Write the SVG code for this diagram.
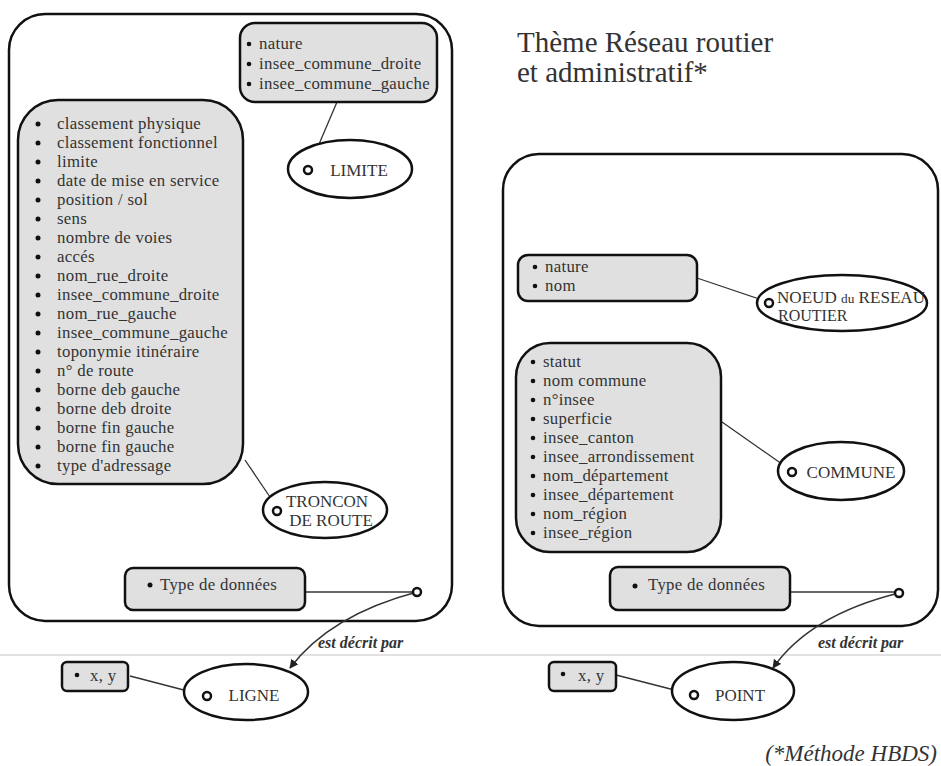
<svg xmlns="http://www.w3.org/2000/svg" width="941" height="766" viewBox="0 0 941 766">
<defs>
<style>
.frame{fill:#fff;stroke:#111;stroke-width:2.5}
.attr{fill:#e0e0e0;stroke:#111;stroke-width:2.5}
.ent{fill:#fff;stroke:#111;stroke-width:2.5}
.port{fill:#fff;stroke:#111;stroke-width:2.5}
.link{fill:none;stroke:#333;stroke-width:1.3}
.arc{fill:none;stroke:#333;stroke-width:1.4}
text{font-family:"Liberation Serif","Times New Roman",serif;fill:#333}
.t{font-size:16.8px;letter-spacing:0.3px}
.e{font-size:17px}
.lbl{font-size:16px;font-style:italic;font-weight:bold}
.title{font-size:29px}
.bul{fill:#111}
</style>
<marker id="ah" viewBox="0 0 10 10" refX="9" refY="5" markerWidth="9" markerHeight="9" orient="auto" markerUnits="userSpaceOnUse">
<path d="M0,0 L10,5 L0,10 z" fill="#222"/>
</marker>
</defs>
<rect width="941" height="766" fill="#fff"/>
<line x1="0" y1="655" x2="941" y2="655" stroke="#e2e2e2" stroke-width="2"/>

<g id="frame-left"><rect class="frame" x="9" y="14" width="443" height="607" rx="36"/></g>
<g id="frame-right"><rect class="frame" x="503" y="154" width="435" height="472" rx="36"/></g>

<g id="title">
<text class="title" x="517" y="52">Thème Réseau routier</text>
<text class="title" x="517" y="82">et administratif*</text>
</g>

<g id="connectors">
<line class="link" x1="337" y1="102" x2="308" y2="170"/>
<line class="link" x1="245" y1="460" x2="270" y2="497"/>
<line class="link" x1="305" y1="592" x2="413" y2="592"/>
<line class="link" x1="130" y1="676" x2="203" y2="695"/>
<line class="link" x1="697" y1="278" x2="765" y2="301"/>
<line class="link" x1="722" y1="422" x2="789" y2="469"/>
<line class="link" x1="790" y1="592" x2="895" y2="592"/>
<line class="link" x1="616" y1="675" x2="690" y2="694"/>
<path class="arc" d="M417,592 Q330,615 290,668" marker-end="url(#ah)"/>
<path class="arc" d="M899,593 Q810,615 773,668" marker-end="url(#ah)"/>
<text class="lbl" x="318" y="648">est décrit par</text>
<text class="lbl" x="818" y="648">est décrit par</text>
</g>

<g id="attr-limite">
<rect class="attr" x="240" y="23" width="197" height="79" rx="15"/>
<circle class="bul" cx="249" cy="44" r="2.3"/><text class="t" x="259" y="49">nature</text>
<circle class="bul" cx="249" cy="64" r="2.3"/><text class="t" x="259" y="69">insee_commune_droite</text>
<circle class="bul" cx="249" cy="84" r="2.3"/><text class="t" x="259" y="89">insee_commune_gauche</text>
</g>

<g id="limite">
<ellipse class="ent" cx="350" cy="169" rx="62" ry="29"/>
<circle class="port" cx="308" cy="170" r="4"/>
<text class="e" x="359" y="176" text-anchor="middle">LIMITE</text>
</g>

<g id="attr-troncon">
<rect class="attr" x="18" y="100" width="225" height="384" rx="40"/>
<circle class="bul" cx="38" cy="124" r="2.5"/><text class="t" x="57" y="129">classement physique</text>
<circle class="bul" cx="38" cy="143" r="2.5"/><text class="t" x="57" y="148">classement fonctionnel</text>
<circle class="bul" cx="38" cy="162" r="2.5"/><text class="t" x="57" y="167">limite</text>
<circle class="bul" cx="38" cy="181" r="2.5"/><text class="t" x="57" y="186">date de mise en service</text>
<circle class="bul" cx="38" cy="200" r="2.5"/><text class="t" x="57" y="205">position / sol</text>
<circle class="bul" cx="38" cy="219" r="2.5"/><text class="t" x="57" y="224">sens</text>
<circle class="bul" cx="38" cy="238" r="2.5"/><text class="t" x="57" y="243">nombre de voies</text>
<circle class="bul" cx="38" cy="257" r="2.5"/><text class="t" x="57" y="262">accés</text>
<circle class="bul" cx="38" cy="276" r="2.5"/><text class="t" x="57" y="281">nom_rue_droite</text>
<circle class="bul" cx="38" cy="295" r="2.5"/><text class="t" x="57" y="300">insee_commune_droite</text>
<circle class="bul" cx="38" cy="314" r="2.5"/><text class="t" x="57" y="319">nom_rue_gauche</text>
<circle class="bul" cx="38" cy="333" r="2.5"/><text class="t" x="57" y="338">insee_commune_gauche</text>
<circle class="bul" cx="38" cy="352" r="2.5"/><text class="t" x="57" y="357">toponymie itinéraire</text>
<circle class="bul" cx="38" cy="371" r="2.5"/><text class="t" x="57" y="376">n° de route</text>
<circle class="bul" cx="38" cy="390" r="2.5"/><text class="t" x="57" y="395">borne deb gauche</text>
<circle class="bul" cx="38" cy="409" r="2.5"/><text class="t" x="57" y="414">borne deb droite</text>
<circle class="bul" cx="38" cy="428" r="2.5"/><text class="t" x="57" y="433">borne fin gauche</text>
<circle class="bul" cx="38" cy="447" r="2.5"/><text class="t" x="57" y="452">borne fin gauche</text>
<circle class="bul" cx="38" cy="466" r="2.5"/><text class="t" x="57" y="471">type d'adressage</text>
</g>

<g id="troncon">
<ellipse class="ent" cx="325" cy="510" rx="62" ry="28"/>
<circle class="port" cx="277" cy="511" r="4"/>
<text class="e" x="327" y="507" text-anchor="middle">TRONCON</text>
<text class="e" x="331" y="526" text-anchor="middle">DE ROUTE</text>
</g>

<g id="type-left">
<rect class="attr" x="125" y="568" width="180" height="42" rx="8"/>
<circle class="bul" cx="150" cy="585" r="2.5"/><text class="t" x="160" y="590">Type de données</text>
</g>
<g id="port-left"><circle class="port" cx="417" cy="592" r="4"/></g>

<g id="xy-left">
<rect class="attr" x="62" y="662" width="66" height="29" rx="5"/>
<circle class="bul" cx="77" cy="675" r="2.3"/><text class="t" x="90" y="681">x, y</text>
</g>
<g id="ligne">
<ellipse class="ent" cx="246" cy="692" rx="62" ry="28"/>
<circle class="port" cx="207" cy="696" r="4"/>
<text class="e" x="254" y="701" text-anchor="middle">LIGNE</text>
</g>

<g id="attr-noeud">
<rect class="attr" x="518" y="255" width="179" height="46" rx="10"/>
<circle class="bul" cx="535" cy="267" r="2.3"/><text class="t" x="545" y="272">nature</text>
<circle class="bul" cx="535" cy="286" r="2.3"/><text class="t" x="545" y="291">nom</text>
</g>
<g id="noeud">
<ellipse class="ent" cx="842" cy="303" rx="85" ry="28"/>
<circle class="port" cx="769" cy="303" r="4"/>
<text x="777" y="303" font-size="16" textLength="148" lengthAdjust="spacingAndGlyphs">NOEUD <tspan font-size="12.5">du</tspan> RESEAU</text>
<text x="778" y="321" font-size="16">ROUTIER</text>
</g>

<g id="attr-commune">
<rect class="attr" x="516" y="343" width="205" height="209" rx="34"/>
<circle class="bul" cx="533" cy="362" r="2.3"/><text class="t" x="543" y="367">statut</text>
<circle class="bul" cx="533" cy="381" r="2.3"/><text class="t" x="543" y="386">nom commune</text>
<circle class="bul" cx="533" cy="400" r="2.3"/><text class="t" x="543" y="405">n°insee</text>
<circle class="bul" cx="533" cy="419" r="2.3"/><text class="t" x="543" y="424">superficie</text>
<circle class="bul" cx="533" cy="438" r="2.3"/><text class="t" x="543" y="443">insee_canton</text>
<circle class="bul" cx="533" cy="457" r="2.3"/><text class="t" x="543" y="462">insee_arrondissement</text>
<circle class="bul" cx="533" cy="476" r="2.3"/><text class="t" x="543" y="481">nom_département</text>
<circle class="bul" cx="533" cy="495" r="2.3"/><text class="t" x="543" y="500">insee_département</text>
<circle class="bul" cx="533" cy="514" r="2.3"/><text class="t" x="543" y="519">nom_région</text>
<circle class="bul" cx="533" cy="533" r="2.3"/><text class="t" x="543" y="538">insee_région</text>
</g>
<g id="commune">
<ellipse class="ent" cx="841" cy="471" rx="63" ry="29"/>
<circle class="port" cx="792" cy="472" r="4"/>
<text class="e" x="851" y="478" text-anchor="middle">COMMUNE</text>
</g>

<g id="type-right">
<rect class="attr" x="610" y="567" width="180" height="43" rx="8"/>
<circle class="bul" cx="635" cy="586" r="2.5"/><text class="t" x="648" y="590">Type de données</text>
</g>
<g id="port-right"><circle class="port" cx="899" cy="593" r="4"/></g>

<g id="xy-right">
<rect class="attr" x="549" y="662" width="67" height="29" rx="5"/>
<circle class="bul" cx="563" cy="674" r="2.3"/><text class="t" x="578" y="681">x, y</text>
</g>
<g id="point">
<ellipse class="ent" cx="733" cy="691" rx="61" ry="29"/>
<circle class="port" cx="694" cy="695" r="4"/>
<text class="e" x="740" y="701" text-anchor="middle">POINT</text>
</g>

<g id="footnote">
<text x="937" y="761" text-anchor="end" font-size="23" font-style="italic">(*Méthode HBDS)</text>
</g>
</svg>
